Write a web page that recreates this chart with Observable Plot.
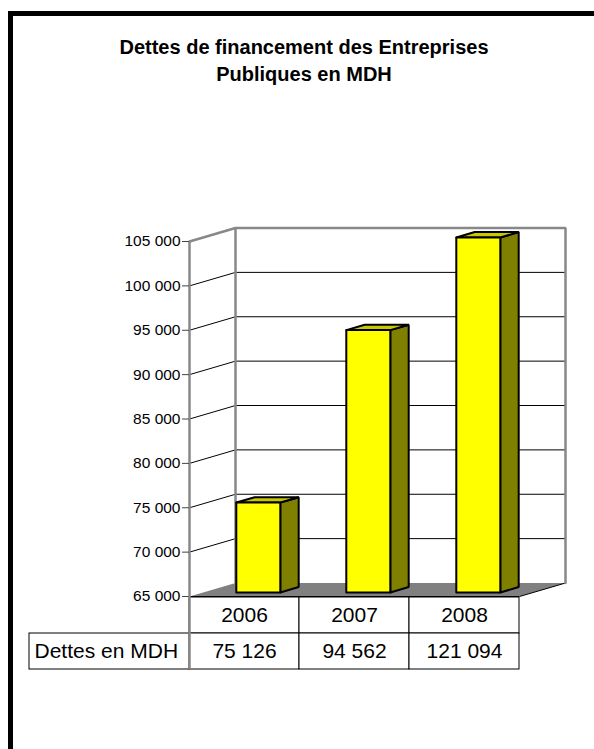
<!DOCTYPE html>
<html><head><meta charset="utf-8">
<script src="https://cdn.jsdelivr.net/npm/d3@7"></script>
<script src="https://cdn.jsdelivr.net/npm/@observablehq/plot@0.6"></script>
<style>
html,body{margin:0;padding:0;background:#fff;}
#wrap{position:relative;width:594px;height:749px;overflow:hidden;font-family:"Liberation Sans",Arial,sans-serif;}
#border{position:absolute;left:8px;top:11px;right:-20px;bottom:-20px;border-left:5px solid #000;border-top:5px solid #000;}
#title{position:absolute;left:0;width:608px;top:34px;text-align:center;font-weight:bold;font-size:20px;line-height:27px;color:#000;}
#chart{position:absolute;left:0;top:0;}
#table{position:absolute;left:0;top:596px;}
svg{overflow:visible;}
</style></head>
<body><div id="wrap"><div id="border"></div><div id="title">Dettes de financement des Entreprises<br>Publiques en MDH</div><div id="chart"></div><div id="table"></div></div>
<script>
// ---- data ----
const years = ["2006", "2007", "2008"];
const debts = [75126, 94562, 121094];
const yTicks = [65000, 70000, 75000, 80000, 85000, 90000, 95000, 100000, 105000];
const yDomain = [65000, 105000];
const rowLabel = "Dettes en MDH";

// ---- layout ----
const W = 594, H = 749;
const M = {top: 241, right: 75, bottom: 153, left: 189};
const n = years.length;
const colPx = (W - M.left - M.right) / n;
const yPx = (H - M.top - M.bottom) / (yDomain[1] - yDomain[0]);
const DEPTH_PX = [46, 13.5];
const ddx = DEPTH_PX[0] / colPx, ddy = DEPTH_PX[1] / yPx;
const BAR_W = 0.4, BAR_Z0 = 0.3, BAR_Z1 = 0.7;
const LABEL_PX = 160;
const [yMin, yMax] = yDomain;

const loc = d3.formatLocale({decimal: ",", thousands: " ", grouping: [3], currency: ["", ""]});
const fmt = loc.format(",d");

const P = (x, y, z) => [x + z * ddx, y + z * ddy];
const poly = (id, pts, close = true) => (close ? pts.concat([pts[0]]) : pts).map(([x, y]) => ({id, x, y}));

const walls = [
  ...poly("left", [P(0, yMin, 0), P(0, yMax, 0), P(0, yMax, 1), P(0, yMin, 1)]),
  ...poly("back", [P(0, yMin, 1), P(0, yMax, 1), P(n, yMax, 1), P(n, yMin, 1)])
];
const floor = poly("floor", [P(0, yMin, 0), P(n, yMin, 0), P(n, yMin, 1), P(0, yMin, 1)]);
const wallEdge = poly("edge", [P(0, yMax, 0), P(0, yMax, 1), P(n, yMax, 1), P(n, yMin, 1)], false);
const inner = yTicks.filter(t => t > yMin && t < yMax);

const fronts = [], sides = [], tops = [];
years.forEach((yr, i) => {
  const v = Math.min(debts[i], yMax);
  const a = i + 0.5 - BAR_W / 2, b = i + 0.5 + BAR_W / 2;
  fronts.push(...poly(yr, [P(a, yMin, BAR_Z0), P(b, yMin, BAR_Z0), P(b, v, BAR_Z0), P(a, v, BAR_Z0)]));
  sides.push(...poly(yr, [P(b, yMin, BAR_Z0), P(b, yMin, BAR_Z1), P(b, v, BAR_Z1), P(b, v, BAR_Z0)]));
  tops.push(...poly(yr, [P(a, v, BAR_Z0), P(b, v, BAR_Z0), P(b, v, BAR_Z1), P(a, v, BAR_Z1)]));
});

const face = (data, fill) => Plot.line(data, {x: "x", y: "y", z: "id", fill, stroke: "#000", strokeWidth: 2, strokeLinejoin: "miter"});

const chart = Plot.plot({
  width: W, height: H,
  marginTop: M.top, marginRight: M.right, marginBottom: M.bottom, marginLeft: M.left,
  style: {fontFamily: "'Liberation Sans', Arial, sans-serif", fontSize: "15.5px", color: "#000", background: "transparent", overflow: "visible"},
  x: {domain: [0, n], axis: null},
  y: {domain: yDomain, axis: null},
  marks: [
    Plot.line(walls, {x: "x", y: "y", z: "id", fill: "#fff", stroke: "none"}),
    Plot.link(inner, {x1: 0, y1: d => d, x2: ddx, y2: d => d + ddy, stroke: "#000", strokeWidth: 1}),
    Plot.link(inner, {x1: ddx, y1: d => d + ddy, x2: n + ddx, y2: d => d + ddy, stroke: "#000", strokeWidth: 1}),
    Plot.line(floor, {x: "x", y: "y", z: "id", fill: "#808080", stroke: "none"}),
    Plot.link([yMin], {x1: n, y1: d => d, x2: n + ddx, y2: d => d + ddy, stroke: "#000", strokeWidth: 1}),
    Plot.link([yMax], {x1: ddx, y1: d => d + ddy, x2: ddx, y2: yMin + ddy, stroke: "#888", strokeWidth: 2.5}),
    Plot.line(wallEdge, {x: "x", y: "y", stroke: "#888", strokeWidth: 2.5, strokeLinejoin: "miter"}),
    Plot.ruleY([yMin], {x1: 0, x2: n, stroke: "#000", strokeWidth: 1.2}),
    face(sides, "#808000"),
    face(tops, "#C8C800"),
    face(fronts, "#FFFF00"),
    Plot.ruleX([0], {y1: yMin, y2: yMax, stroke: "#888", strokeWidth: 2.5}),
    Plot.axisY(yTicks, {tickFormat: fmt, tickSize: 7, tickPadding: 2, stroke: "#444", fill: "#000", label: null})
  ]
});
document.getElementById("chart").appendChild(chart);

// ---- data table ----
const rows = ["years", "values"];
const cells = years.map((yr, i) => ({i, yr, val: fmt(debts[i])}));
const table = Plot.plot({
  width: W, height: 74,
  marginTop: 0, marginRight: M.right, marginBottom: 1, marginLeft: M.left,
  style: {fontFamily: "'Liberation Sans', Arial, sans-serif", fontSize: "21px", color: "#000", background: "transparent", overflow: "visible"},
  x: {domain: [0, n], axis: null},
  y: {domain: rows, axis: null, padding: 0},
  marks: [
    Plot.barX(cells, {x1: d => d.i, x2: d => d.i + 1, y: () => "years", fill: "#fff", stroke: "#000", strokeWidth: 1, inset: 0}),
    Plot.barX(cells, {x1: d => d.i, x2: d => d.i + 1, y: () => "values", fill: "#fff", stroke: "#000", strokeWidth: 1, inset: 0}),
    Plot.barX([rowLabel], {x1: -LABEL_PX / colPx, x2: 0, y: () => "values", fill: "#fff", stroke: "#000", strokeWidth: 1, inset: 0}),
    Plot.ruleX([0], {stroke: "#888", strokeWidth: 2.5}),
    Plot.text(cells, {x: d => d.i + 0.5, y: () => "years", text: "yr", fontSize: 21}),
    Plot.text(cells, {x: d => d.i + 0.5, y: () => "values", text: "val", fontSize: 21}),
    Plot.text([rowLabel], {x: -LABEL_PX / colPx, y: () => "values", text: d => d, fontSize: 21, textAnchor: "start", dx: 5})
  ]
});
document.getElementById("table").appendChild(table);
</script>
</body></html>
